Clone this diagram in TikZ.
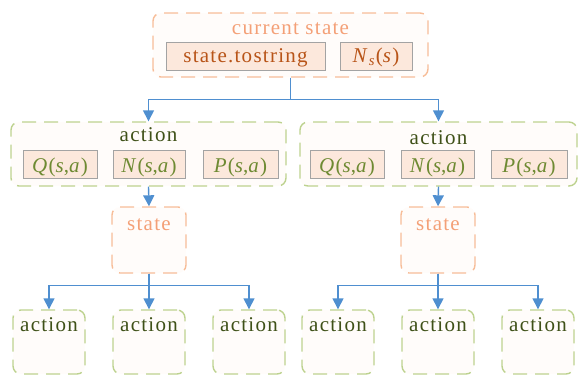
\documentclass[tikz,border=0pt]{standalone}
\usepackage{fontspec}
\setmainfont[LetterSpace=6]{Liberation Serif}
\usetikzlibrary{arrows.meta}
\definecolor{ctxt}{HTML}{F4A077}
\definecolor{dtxt}{HTML}{B85418}
\definecolor{atxt}{HTML}{3F5118}
\definecolor{qtxt}{HTML}{6E8A32}
\definecolor{ifill}{HTML}{FCE8DC}
\definecolor{iborder}{HTML}{A3A3A3}
\definecolor{gborder}{HTML}{BDD28F}
\definecolor{oborder}{HTML}{F7BD98}
\definecolor{bl}{HTML}{4F8FD0}
\definecolor{ofill}{HTML}{FFFCFA}
\tikzset{
  obox/.style={draw=oborder, line width=1.4pt, fill=ofill, rounded corners=8pt, dash pattern=on 14pt off 8pt, rectangle},
  gbox/.style={draw=gborder, line width=1.4pt, fill=ofill, rounded corners=8pt, dash pattern=on 14pt off 8pt, rectangle},
  ibox/.style={draw=iborder, line width=1pt, fill=ifill, rectangle, minimum height=28pt, inner sep=0pt},
  conn/.style={draw=bl, line width=1.4pt, -{Triangle[length=11pt,width=11pt]}},
  lab/.style={font=\fontsize{21}{24}\selectfont, inner sep=0pt, anchor=base},
}
\begin{document}
\begin{tikzpicture}[x=1pt,y=-1pt]
\useasboundingbox (0,0) rectangle (578,376);
% top
\node[obox, minimum width=275pt, minimum height=64pt] (top) at (290.5,45) {};
\node[lab, text=ctxt] (toplab) at (290.5,34) {current state};
\node[ibox, minimum width=159pt] (tostr) at (245.5,56) {};
\node[lab, text=dtxt] (tostrlab) at (245.5,62) {state.tostring};
\node[ibox, minimum width=72pt] (ns) at (376,56) {};
\node[lab, text=dtxt] (nslab) at (376,62) {\textit{N}\textsubscript{\textit{s}}(\textit{s})};
% action level 1
\node[gbox, minimum width=275pt, minimum height=64pt] (la) at (148.5,154) {};
\node[lab, text=atxt] (lalab) at (148.5,141.7) {action};
\node[gbox, minimum width=277pt, minimum height=64pt] (ra) at (438.5,154) {};
\node[lab, text=atxt] (ralab) at (438.5,144) {action};
\foreach \n/\x/\w/\t in {lq/60/74/Q, ln/149/72/N, lp/240.5/75/P, rq/347/74/Q, rn/437.5/73/N, rp/529/76/P}{
  \node[ibox, minimum width=\w pt] (\n) at (\x,164) {};
  \node[lab, text=qtxt] (\n lab) at (\x,172) {\textit{\t}(\textit{s},\textit{a})};
}
% states
\node[obox, minimum width=74pt, minimum height=66pt] (ls) at (149,240) {};
\node[lab, text=ctxt] (lslab) at (149,230.5) {state};
\node[obox, minimum width=74pt, minimum height=66pt] (rs) at (438,240) {};
\node[lab, text=ctxt] (rslab) at (438,230.5) {state};
% leaves
\foreach \n/\x in {l1/49,l2/149,l3/249,r1/338,r2/438,r3/538}{
  \node[gbox, minimum width=72pt, minimum height=64pt] (\n) at (\x,342) {};
  \node[lab, text=atxt] (\n lab) at (\x,331.5) {action};
}
% connectors
\draw[conn] (top.south) -- ++(0,22) -| (la.north);
\draw[conn] (top.south) -- ++(0,22) -| (ra.north);
\draw[conn] (la.south) -- (ls.north);
\draw[conn] (ra.south) -- (rs.north);
\foreach \s/\a/\b/\c in {ls/l1/l2/l3, rs/r1/r2/r3}{
  \draw[conn] (\s.south) -- ++(0,12) -| (\a.north);
  \draw[conn] (\s.south) -- (\b.north);
  \draw[conn] (\s.south) -- ++(0,12) -| (\c.north);
}
\end{tikzpicture}
\end{document}
